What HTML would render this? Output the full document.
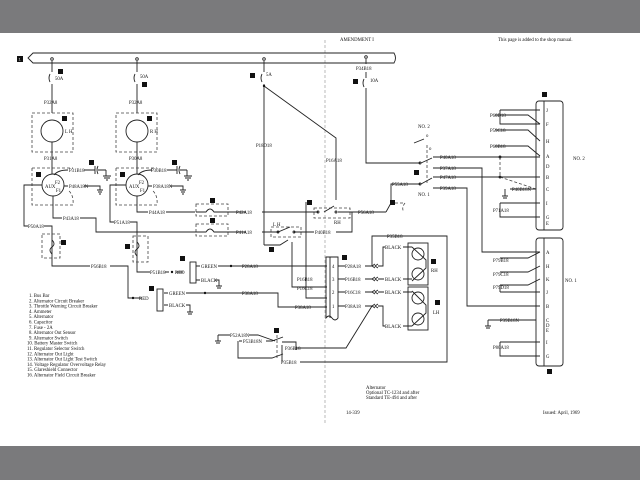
<!DOCTYPE html>
<html><head><meta charset="utf-8"><style>
body{margin:0;background:#fff}
svg{display:block}
text{font-family:"Liberation Serif",serif;font-size:4.8px;fill:#111}
.l{stroke:#222;stroke-width:0.9;fill:none}
.d{stroke:#444;stroke-width:0.8;fill:none;stroke-dasharray:3 2}
.b{fill:#111}
.bt{fill:#fff;font-size:4px;font-family:"Liberation Sans",sans-serif}
</style></head><body>
<svg width="640" height="480" viewBox="0 0 640 480" xmlns="http://www.w3.org/2000/svg">
<rect x="0" y="0" width="640" height="33" fill="#7a7a7c"/>
<rect x="0" y="446" width="640" height="34" fill="#7a7a7c"/>
<rect x="0" y="33" width="640" height="413" fill="#fff"/>
<line x1="325" y1="40" x2="325" y2="425" class="d" stroke-dasharray="6 3" style="stroke:#aaa"/>
<text x="340" y="41">AMENDMENT I</text>
<text x="498" y="41">This page is added to the shop manual.</text>

<path class="l" d="M33,53 H394 Q397,58 394,63 H33 L28,58 Z"/>
<rect x="17" y="56" width="6" height="6" class="b"/><text x="18.5" y="60.5" class="bt">1</text>

<g class="l">
<circle cx="52" cy="59" r="1.3"/><circle cx="137" cy="59" r="1.3"/><circle cx="264" cy="59" r="1.3"/><circle cx="366" cy="57" r="1.3"/>
<path d="M52,61 V72 M50,74 Q48,78 50,82 M52,84 V113"/>
<path d="M137,61 V72 M135,74 Q133,78 135,82 M137,84 V113"/>
<path d="M264,61 V72 M262,74 Q260,78 262,82 M264,84 V245"/>
<path d="M264,86 L336,138 V196"/>
<path d="M366,59 V64 M366,72 V78 M364,79 Q362,83 364,87 M366,88 V163 H420"/>
</g>
<circle cx="264" cy="86" r="1.2" class="b"/>
<rect x="58" y="69" width="5" height="5" class="b"/><text x="55" y="80">50A</text>
<rect x="142" y="82" width="5" height="5" class="b"/><text x="140" y="78">50A</text>
<rect x="250" y="73" width="5" height="5" class="b"/><text x="266" y="76">5A</text>
<text x="356" y="70">P34B18</text>
<rect x="353" y="79" width="5" height="5" class="b"/><text x="370" y="82">10A</text>
<text x="44" y="104">P32A8</text><text x="129" y="104">P32A8</text>
<text x="256" y="147">P18D18</text>
<text x="326" y="162">P16A18</text>

<rect x="32" y="113" width="41" height="39" class="d"/>
<circle cx="52" cy="131" r="11" class="l"/><text x="65" y="133">L H</text>
<rect x="62" y="116" width="5" height="5" class="b"/>
<rect x="116" y="113" width="41" height="39" class="d"/>
<circle cx="137" cy="131" r="11" class="l"/><text x="150" y="133">R H</text>
<rect x="147" y="116" width="5" height="5" class="b"/>
<path class="l" d="M52,142 V174 M137,142 V174"/>
<text x="44" y="160">P31A8</text><text x="129" y="160">P30A8</text>

<path class="d" d="M32,168 H73 M32,168 V205 H73 Q74,195 68,190"/>
<path class="d" d="M116,168 H157 M116,168 V205 H157 Q158,195 152,190"/>
<circle cx="53" cy="185" r="11" class="l"/><circle cx="137" cy="185" r="11" class="l"/>
<text x="45" y="188">AUX</text><text x="55" y="184">F2</text><text x="56" y="192">F1</text>
<text x="129" y="188">AUX</text><text x="139" y="184">F2</text><text x="140" y="192">F1</text>
<rect x="36" y="172" width="5" height="5" class="b"/><rect x="120" y="172" width="5" height="5" class="b"/>
<g class="l">
<path d="M54,175 Q58,170 68,170 M84,170 H95 M95,166 V174 M98,166 Q96,170 98,174 M98,170 H106 M103,176 H111 M104,178 H110 M106,180 H108 M106,170 V176"/>
<path d="M64,186 H68 M84,186 H100 V190 M97,190 H103 M98,192 H102 M99,194 H101"/>
<path d="M138,175 Q142,170 152,170 M167,170 H177 M177,166 V174 M180,166 Q178,170 180,174 M180,170 H187 M184,176 H192 M185,178 H191 M187,180 H189 M187,170 V176"/>
<path d="M148,186 H152 M170,186 H183 V190 M180,190 H186 M181,192 H185 M182,194 H184"/>
<path d="M53,196 V218 H62 M80,218 H96 V232 H195"/>
<path d="M137,196 V212 H148 M166,212 H195"/>
<path d="M42,185 H24 V226 H28 M44,226 H52 V266 H90 M110,266 H128 V298 H142"/>
<path d="M126,185 H110 V222 H114 M130,222 H137 V272 H150 M165,272 H167 M176,272 H183"/>
</g>
<text x="69" y="172">P31B18</text><rect x="89" y="160" width="5" height="5" class="b"/>
<text x="69" y="188">P48A18N</text>
<text x="151" y="172">P30B18</text><rect x="172" y="160" width="5" height="5" class="b"/>
<text x="153" y="188">P38A18N</text>
<text x="63" y="220">P43A18</text>
<text x="149" y="214">P44A18</text>
<text x="28" y="228">P50A18</text>
<text x="114" y="224">P51A18</text>
<text x="91" y="268">P56B18</text>
<text x="150" y="274">P51B18</text>

<rect x="42" y="234" width="18" height="24" class="d"/>
<path class="l" d="M52,240 Q56,244 52,247 Q48,250 52,254"/>
<rect x="61" y="240" width="5" height="5" class="b"/>
<rect x="133" y="236" width="15" height="26" class="d"/>
<path class="l" d="M137,242 Q141,246 137,249 Q133,252 137,256"/>
<rect x="125" y="244" width="5" height="5" class="b"/>

<rect x="196" y="204" width="32" height="12" class="d"/>
<path class="l" d="M196,212 H206 Q210,206 214,212 H228 H246 M262,212 H307"/>
<rect x="210" y="198" width="5" height="5" class="b"/><text x="236" y="214">P42A18</text>
<rect x="196" y="224" width="32" height="12" class="d"/>
<path class="l" d="M195,232 H206 Q210,226 214,232 H228 H246 M262,232 H272"/>
<rect x="210" y="218" width="5" height="5" class="b"/><text x="236" y="234">P41A18</text>

<text x="273" y="226">L H</text>
<rect x="271" y="227" width="30" height="10" class="d"/>
<path class="l" d="M272,232 H278 L290,227 M294,232 H300 H314 M336,232 H352 V212 M264,245 H280 L288,240 M292,242 V287 H327"/>
<circle cx="278" cy="232" r="1" class="l"/><circle cx="294" cy="232" r="1" class="l"/>
<text x="315" y="234">P40B18</text>
<rect x="269" y="247" width="5" height="5" class="b"/>
<rect x="307" y="200" width="5" height="5" class="b"/>
<rect x="314" y="208" width="36" height="10" class="d"/>
<path class="l" d="M307,212 H318 M324,212 L334,206 M336,196 V200 M338,212 H352 M306,202 V298 H327"/>
<circle cx="318" cy="212" r="1" class="l"/><circle cx="336" cy="212" r="1" class="l"/>
<text x="334" y="224">RH</text>
<path class="l" d="M352,212 H386 M386,212 L391,203 V184 H420"/>
<text x="358" y="214">P56A18</text><text x="392" y="186">P55A18</text>
<rect x="390" y="200" width="5" height="5" class="b"/>
<path class="d" d="M395,203 H405 Q401,208 404,212"/>
<text x="297" y="281">P16B18</text>

<text x="418" y="128">NO. 2</text><text x="418" y="196">NO. 1</text>
<rect x="414" y="170" width="5" height="5" class="b"/>
<circle cx="420" cy="163" r="1" class="l"/><circle cx="420" cy="184" r="1" class="l"/>
<path class="l" d="M421,163 L432,158 M421,184 L432,178 M414,143 L424,139"/>
<path class="d" d="M427,145 V183"/>
<text x="426" y="137">o</text><text x="429" y="150">o</text>
<path class="l" d="M433,157 H540 M433,168 H482 V252 H540 M433,177 H540 M433,188 H467 V306 H540"/>
<text x="440" y="159">P40A18</text><text x="440" y="170">P37A18</text>
<text x="440" y="179">P47A18</text><text x="440" y="190">P39A18</text>
<path class="d" d="M500,157 V177 L536,189"/>
<circle cx="500" cy="157" r="1" class="l"/><circle cx="500" cy="177" r="1" class="l"/>

<rect x="536" y="101" width="27" height="129" rx="3" class="l"/><line x1="544" y1="101" x2="544" y2="230" class="l"/>
<rect x="542" y="92" width="5" height="5" class="b"/><text x="573" y="160">NO. 2</text>
<g class="l"><path d="M500,110 H540 M500,110 V124 H540"/>
<path d="M495,115 H528 L540,124 M495,130 H528 L540,141 M495,146 H528 L540,156"/>
<path d="M500,203 H540 M500,203 V217 H540"/>
<path d="M510,189 H536 M505,189 V196 M502,196 H508 M503,198 H507"/></g>
<text x="490" y="117">P60D18</text><text x="490" y="132">P59C18</text><text x="490" y="148">P60B18</text>
<text x="512" y="191">P40B18N</text><text x="493" y="212">P71A18</text>
<g style="font-size:3.8px"><text x="546" y="112">J</text><text x="546" y="126">F</text><text x="546" y="143">H</text><text x="546" y="158">A</text><text x="546" y="168">D</text><text x="546" y="179">B</text><text x="546" y="191">C</text><text x="546" y="205">I</text><text x="546" y="219">G</text><text x="546" y="225">E</text></g>

<rect x="536" y="238" width="27" height="128" rx="3" class="l"/><line x1="544" y1="238" x2="544" y2="366" class="l"/>
<rect x="547" y="369" width="5" height="5" class="b"/><text x="565" y="282">NO. 1</text>
<g class="l"><path d="M500,258 H528 L540,252 M500,272 H528 L540,266 M500,285 H528 L540,279 M500,292 H540 M500,285 V292"/>
<path d="M500,342 H540 M500,342 V356 H540 M488,320 H536 M488,320 V326 M485,326 H491 M486,328 H490"/></g>
<text x="493" y="262">P79B18</text><text x="493" y="276">P79C18</text><text x="493" y="289">P79D18</text>
<text x="500" y="322">P39B18N</text><text x="493" y="349">P80A18</text>
<g style="font-size:3.8px"><text x="546" y="254">A</text><text x="546" y="268">H</text><text x="546" y="281">K</text><text x="546" y="294">J</text><text x="546" y="308">B</text><text x="546" y="322">C</text><text x="546" y="327">D</text><text x="546" y="332">E</text><text x="546" y="344">I</text><text x="546" y="358">G</text></g>

<rect x="180" y="256" width="5" height="5" class="b"/>
<rect x="190" y="262" width="6" height="21" class="l"/>
<path class="l" d="M167,272 H169 M196,266 H200 M218,266 H327 M196,280 H200 M215,280 H219 V286 M216,286 H222 M217,288 H221"/>
<circle cx="172" cy="272" r="1.2" class="b"/><circle cx="231" cy="266" r="1.2" class="b"/>
<text x="175" y="274">RED</text><text x="201" y="268">GREEN</text><text x="201" y="282">BLACK</text>
<text x="242" y="268">P28A18</text>
<rect x="149" y="286" width="5" height="5" class="b"/>
<rect x="157" y="289" width="6" height="22" class="l"/>
<path class="l" d="M128,298 H142 M164,293 H168 M186,293 H278 V307 H327 M164,305 H168 M186,305 H190 V312 M187,312 H193 M188,314 H192"/>
<circle cx="133" cy="298" r="1.2" class="b"/><circle cx="205" cy="293" r="1.2" class="b"/>
<text x="139" y="300">RED</text><text x="169" y="295">GREEN</text><text x="169" y="307">BLACK</text>
<text x="242" y="295">P38A18</text><text x="295" y="309">P38A18</text><text x="297" y="290">P16C18</text>

<path class="l" d="M326,257 H338 V318 Q335,322 332,318 Q329,314 326,318 Z"/>
<line x1="330" y1="257" x2="330" y2="318" class="l"/>
<rect x="342" y="255" width="5" height="5" class="b"/>
<g style="font-size:3.8px"><text x="332" y="268">4</text><text x="332" y="281">3</text><text x="332" y="294">2</text><text x="332" y="308">1</text></g>
<path class="l" d="M338,266 H345 M365,266 H372 M338,279 H345 M365,279 H372 M338,292 H345 M365,292 H372 M338,306 H345 M365,306 H372"/>
<text x="345" y="268">P28A18</text><text x="345" y="281">P16B18</text><text x="345" y="294">P16C18</text><text x="345" y="308">P38A18</text>
<g class="l"><path d="M375,264 L372,266 L375,268 M378,264 L375,266 L378,268 M375,277 L372,279 L375,281 M378,277 L375,279 L378,281 M375,290 L372,292 L375,294 M378,290 L375,292 L378,294 M375,304 L372,306 L375,308 M378,304 L375,306 L378,308"/>
<path d="M372,266 V236 H447 V362 H300 M372,306 L346,348 H296"/>
<path d="M378,266 H383 V247 H385 M403,247 H412 M378,279 H384 M403,279 H412 M378,292 H384 M403,292 H412 M378,306 H383 V326 H385 M403,326 H412"/></g>
<text x="387" y="238">P35B18</text><text x="385" y="249">BLACK</text><text x="385" y="281">BLACK</text><text x="385" y="294">BLACK</text><text x="385" y="328">BLACK</text>
<text x="285" y="350">P36B18</text><text x="281" y="364">P35B18</text>
<rect x="408" y="243" width="20" height="42" class="l"/>
<circle cx="418" cy="254" r="6" class="l"/><circle cx="418" cy="274" r="6" class="l"/>
<path class="l" d="M412,247 L426,260 V268 L412,281"/>
<rect x="408" y="287" width="20" height="43" class="l"/>
<circle cx="418" cy="298" r="6" class="l"/><circle cx="418" cy="319" r="6" class="l"/>
<path class="l" d="M412,291 L426,305 V313 L412,326"/>
<rect x="431" y="259" width="5" height="5" class="b"/><text x="431" y="272">RH</text>
<rect x="435" y="300" width="5" height="5" class="b"/><text x="433" y="314">LH</text>

<rect x="274" y="328" width="5" height="5" class="b"/>
<path class="l" d="M218,335 V341 M215,341 H221 M216,343 H220 M218,335 H230 M249,335 H258 L275,341 M239,341 H242 M266,341 H272 L283,337 M238,341 V358 H272 L283,354 M282,348 V362 M282,345 V352 M282,342 H296 V350"/>
<path class="d" d="M277,335 V358"/>
<text x="230" y="337">P52A18N</text><text x="243" y="343">P53B18N</text>

<g style="font-size:4.3px">
<text x="29" y="297">1.  Bus Bar</text>
<text x="29" y="302.3">2.  Alternator Circuit Breaker</text>
<text x="29" y="307.6">3.  Throttle Warning Circuit Breaker</text>
<text x="29" y="312.9">4.  Ammeter</text>
<text x="29" y="318.2">5.  Alternator</text>
<text x="29" y="323.5">6.  Capacitor</text>
<text x="29" y="328.8">7.  Fuse - 2A</text>
<text x="29" y="334.1">8.  Alternator Out Sensor</text>
<text x="29" y="339.4">9.  Alternator Switch</text>
<text x="27" y="344.7">10.  Battery Master Switch</text>
<text x="27" y="350">11.  Regulator Selector Switch</text>
<text x="27" y="355.3">12.  Alternator Out Light</text>
<text x="27" y="360.6">13.  Alternator Out Light Test Switch</text>
<text x="27" y="365.9">14.  Voltage Regulator Overvoltage Relay</text>
<text x="27" y="371.2">15.  Glareshield Connector</text>
<text x="27" y="376.5">16.  Alternator Field Circuit Breaker</text>
</g>
<text x="366" y="389">Alternator</text>
<text x="366" y="394">Optional TC-1234 and after</text>
<text x="366" y="399">Standard TE-494 and after</text>
<text x="346" y="414">14-339</text>
<text x="543" y="414">Issued: April, 1969</text>
</svg>
</body></html>
